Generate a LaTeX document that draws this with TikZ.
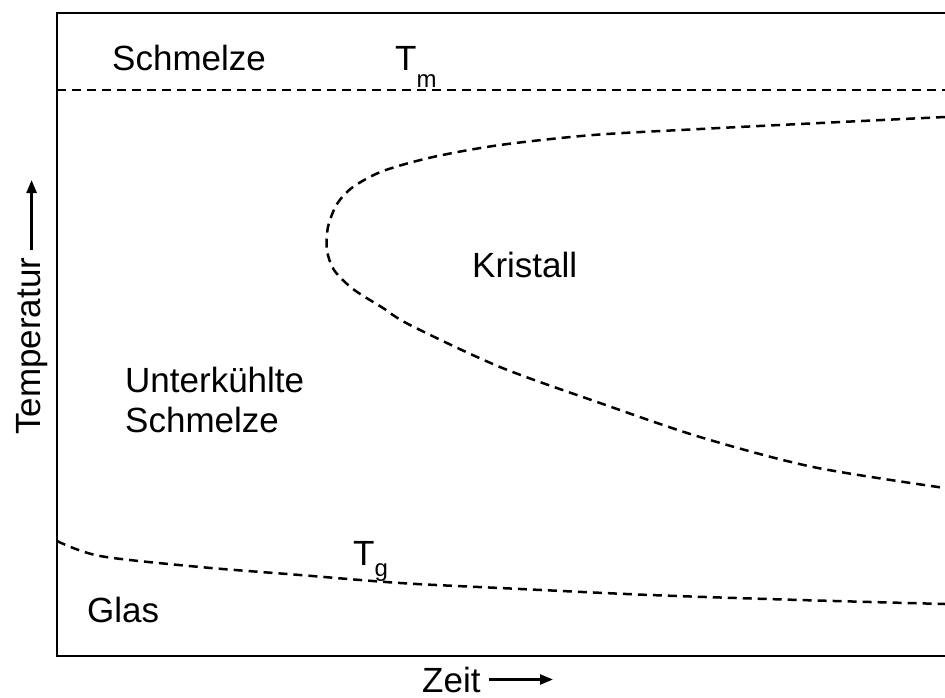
\documentclass[tikz,border=0pt]{standalone}
\usepackage{fontspec}
\setmainfont{Liberation Sans}
\usepackage{tikz}
\usetikzlibrary{positioning}
\usetikzlibrary{arrows.meta}

\begin{document}
\begin{tikzpicture}[x=1pt, y=-1pt]

          \tikzstyle{labelNode} = [black, inner sep=0pt, font=\fontsize{35}{40}\selectfont];
          \tikzstyle{frameEdge} = [line width=2.5pt];
          \tikzstyle{dashEdge} = [line width=2.5pt, dash pattern=on 9pt off 6pt];
          \tikzstyle{axisEdge} = [line width=2.5pt, -{Triangle[length=13pt,width=10pt]}];

          \useasboundingbox (0,0) rectangle (945,697);

          \draw[frameEdge] (945,13) -- (57,13) -- (57,656) -- (945,656);

          \node[labelNode, anchor=base west] (melt) at (112,70) {Schmelze};
          \node[labelNode, anchor=base west] (tm) at (395,70) {T\raisebox{-17pt}{\fontsize{24}{24}\selectfont m}};
          \node[labelNode, anchor=base west] (crystal) at (472,277) {Kristall};
          \node[labelNode, anchor=base west, align=left] (supercooled) at (125,432) {Unterkühlte\\Schmelze};
          \node[labelNode, anchor=base west] (glass) at (87,622) {Glas};
          \node[labelNode, anchor=base west] (tg) at (353,565) {T\raisebox{-11pt}{\fontsize{24}{24}\selectfont g}};
          \node[labelNode, anchor=base west, rotate=90] (temp) at (40,435) {Temperatur};
          \node[labelNode, anchor=base west] (time) at (422,692) {Zeit};

          \coordinate (tempTip) at (31,180);
          \coordinate (timeTip) at (553,680);

          \draw[dashEdge] (57,90) -- (945,90);
          \draw[dashEdge] plot[smooth] coordinates {(945,117) (820,123) (700,129) (593,135) (500,145) (433,157) (383,171) (353,187) (337,204) (328,227) (327,250) (334,270) (353,289) (383,308) (410,325) (500,367) (600,403) (700,437) (813,467) (945,488)};
          \draw[dashEdge] plot[smooth] coordinates {(57,541) (100,556) (200,567) (300,575) (400,583) (500,588) (650,595) (800,600) (945,604)};

          \draw[axisEdge] ([yshift=8pt]temp.east) -- (temp.east |- tempTip);
          \draw[axisEdge] ([xshift=8pt]time.east) -- (time.east -| timeTip);
        \end{tikzpicture}
\end{document}
